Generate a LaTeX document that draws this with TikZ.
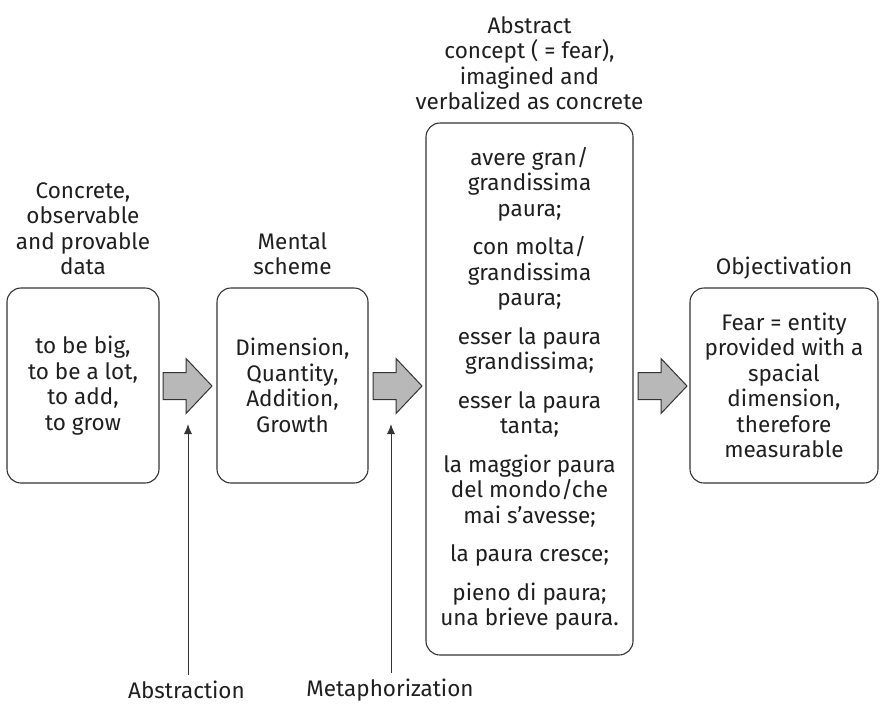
\documentclass[tikz,border=0pt]{standalone}
\usepackage{fontspec}
\setmainfont{Fira Sans}
\usetikzlibrary{calc,shapes,arrows,arrows.meta,positioning}

\tikzset{
  rbox/.style={draw=black!80, line width=1.1pt, rounded corners=14pt,
    align=center, inner sep=0pt},
  head/.style={align=center, inner sep=0pt},
  blockarrow/.style={draw=black!80, line width=1pt, fill=black!28},
  uparrow/.style={-{Latex[length=10pt,width=8pt]}, line width=1pt, black!80},
}

\begin{document}
\begin{tikzpicture}[x=1pt,y=-1pt,font=\fontsize{22.5}{25.5}\selectfont,text=black!88]
    \useasboundingbox (0,0) rectangle (881,705);
    \node[rbox, minimum width=152, minimum height=195] (data) at (83,385.5)
        {to be big,\\to be a lot,\\to add,\\to grow};
    \node[rbox, minimum width=151, minimum height=195] (scheme) at (292.5,385.5)
        {Dimension,\\Quantity,\\Addition,\\Growth};
    \node[rbox, minimum width=207, minimum height=532] (concept) at (529.5,389)
        {avere gran/\\grandissima\\paura;\\[13pt]
         con molta/\\grandissima\\paura;\\[13pt]
         esser la paura\\grandissima;\\[13pt]
         esser la paura\\tanta;\\[13pt]
         la maggior paura\\del mondo/che\\mai s’avesse;\\[13pt]
         la paura cresce;\\[13pt]
         pieno di paura;\\una brieve paura.};
    \node[rbox, minimum width=188, minimum height=195] (object) at (784,385.5)
        {Fear = entity\\provided with a\\spacial\\dimension,\\therefore\\measurable};
    \node[head, above=12pt of data] (datahead)
        {Concrete,\\observable\\and provable\\data};
    \node[head, above=12pt of scheme] (schemehead) {Mental\\scheme};
    \node[head, above=12pt of concept] (concepthead)
        {Abstract\\concept ( = fear),\\imagined and\\verbalized as concrete};
    \node[head, above=8pt of object] (objecthead) {Objectivation};
    \foreach \x in {163, 373, 638}
        \draw[blockarrow, shift={(\x,386)}] (0,-13.5) -- (23,-13.5) -- (23,-27.5)
            -- (49,0) -- (23,27.5) -- (23,13.5) -- (0,13.5) -- cycle;
    \node[head] (abstr) at (186.5,690) {Abstraction};
    \node[head] (metaph) at (390,690) {Metaphorization};
    \coordinate (abstrtip) at (188,424);
    \coordinate (metaphtip) at (391,424);
    \draw[uparrow] (abstr.north -| abstrtip) ++(0,-6) -- (abstrtip);
    \draw[uparrow] (metaph.north -| metaphtip) ++(0,-6) -- (metaphtip);
\end{tikzpicture}
\end{document}
